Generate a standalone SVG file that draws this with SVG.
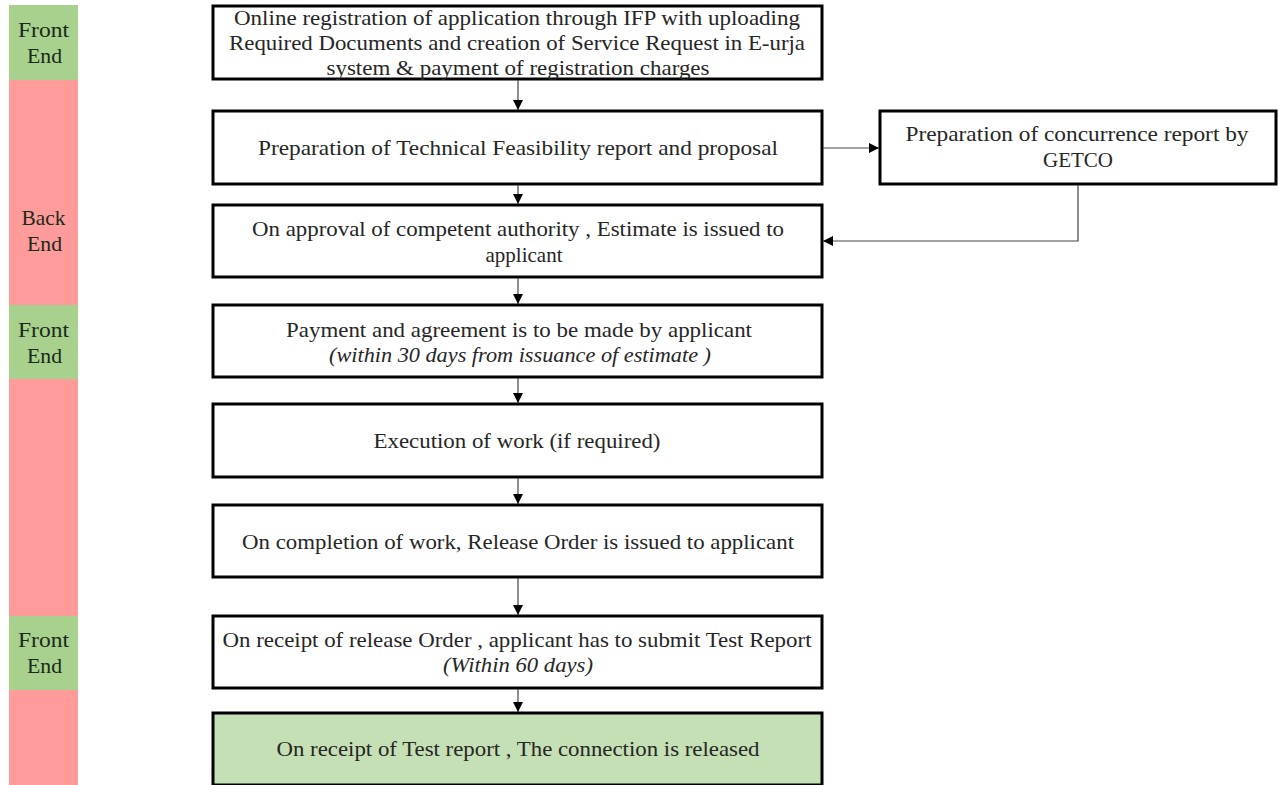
<svg xmlns="http://www.w3.org/2000/svg" width="1279" height="785" viewBox="0 0 1279 785">
<defs>
<marker id="arr" viewBox="0 0 10 10" refX="10" refY="5" markerWidth="10" markerHeight="10" markerUnits="userSpaceOnUse" orient="auto">
<path d="M0,0 L10,5 L0,10 Z" fill="#000"/>
</marker>
<style>
.box{fill:#fff;stroke:#000;stroke-width:3}
.fin{fill:#c5e0b4;stroke:#000;stroke-width:3}
.t{font-family:"Liberation Serif","DejaVu Serif",serif;font-size:21px;fill:#262626;text-anchor:middle}
.i{font-style:italic}
.lab{font-family:"Liberation Serif","DejaVu Serif",serif;font-size:21px;fill:#1a2a1a;text-anchor:middle}
.green{fill:#a9d18e}
.pink{fill:#ff9b9b}
.c{fill:none;stroke:#444;stroke-width:1.2}
</style>
</defs>
<rect width="1279" height="785" fill="#fff"/>
<g id="lanes">
<rect class="green" x="9" y="5" width="69" height="75"/>
<rect class="pink" x="9" y="80" width="69" height="225"/>
<rect class="green" x="9" y="305" width="69" height="74"/>
<rect class="pink" x="9" y="379" width="69" height="237"/>
<rect class="green" x="9" y="616" width="69" height="74"/>
<rect class="pink" x="9" y="690" width="69" height="95"/>
<text class="lab" x="43.500" y="37" textLength="51" lengthAdjust="spacingAndGlyphs">Front</text>
<text class="lab" x="44.500" y="63" textLength="35" lengthAdjust="spacingAndGlyphs">End</text>
<text class="lab" x="43.500" y="225" textLength="44" lengthAdjust="spacingAndGlyphs">Back</text>
<text class="lab" x="44.500" y="251" textLength="35" lengthAdjust="spacingAndGlyphs">End</text>
<text class="lab" x="43.500" y="337" textLength="51" lengthAdjust="spacingAndGlyphs">Front</text>
<text class="lab" x="44.500" y="363" textLength="35" lengthAdjust="spacingAndGlyphs">End</text>
<text class="lab" x="43.500" y="647" textLength="51" lengthAdjust="spacingAndGlyphs">Front</text>
<text class="lab" x="44.500" y="673" textLength="35" lengthAdjust="spacingAndGlyphs">End</text>
</g>
<g id="n1">
<rect class="box" x="213" y="6" width="609" height="73"/>
<text class="t" x="517" y="25" textLength="566" lengthAdjust="spacingAndGlyphs">Online registration of application through IFP with uploading</text>
<text class="t" x="517" y="50" textLength="576" lengthAdjust="spacingAndGlyphs">Required Documents and creation of Service Request in E-urja</text>
<text class="t" x="518" y="75" textLength="383" lengthAdjust="spacingAndGlyphs">system &amp; payment of registration charges</text>
</g>
<g id="n2">
<rect class="box" x="213" y="111" width="609" height="73"/>
<text class="t" x="518" y="155" textLength="520" lengthAdjust="spacingAndGlyphs">Preparation of Technical Feasibility report and proposal</text>
</g>
<g id="n3">
<rect class="box" x="880" y="111" width="396" height="73"/>
<text class="t" x="1077" y="141" textLength="343" lengthAdjust="spacingAndGlyphs">Preparation of concurrence report by</text>
<text class="t" x="1078" y="167">GETCO</text>
</g>
<g id="n4">
<rect class="box" x="213" y="205" width="609" height="72"/>
<text class="t" x="518" y="236" textLength="532" lengthAdjust="spacingAndGlyphs">On approval of competent authority , Estimate is issued to</text>
<text class="t" x="524" y="262">applicant</text>
</g>
<g id="n5">
<rect class="box" x="213" y="305" width="609" height="72"/>
<text class="t" x="519" y="337" textLength="466" lengthAdjust="spacingAndGlyphs">Payment and agreement is to be made by applicant</text>
<text class="t i" x="520" y="362" textLength="382" lengthAdjust="spacingAndGlyphs">(within 30 days from issuance of estimate )</text>
</g>
<g id="n6">
<rect class="box" x="213" y="404" width="609" height="73"/>
<text class="t" x="517" y="448" textLength="287" lengthAdjust="spacingAndGlyphs">Execution of work (if required)</text>
</g>
<g id="n7">
<rect class="box" x="213" y="505" width="609" height="72"/>
<text class="t" x="518" y="549" textLength="552" lengthAdjust="spacingAndGlyphs">On completion of work, Release Order is issued to applicant</text>
</g>
<g id="n8">
<rect class="box" x="213" y="616" width="609" height="72"/>
<text class="t" x="517" y="647" textLength="589" lengthAdjust="spacingAndGlyphs">On receipt of release Order , applicant has to submit Test Report</text>
<text class="t i" x="518" y="672" textLength="150" lengthAdjust="spacingAndGlyphs">(Within 60 days)</text>
</g>
<g id="n9">
<rect class="fin" x="213" y="713" width="609" height="72"/>
<text class="t" x="518" y="756" textLength="483" lengthAdjust="spacingAndGlyphs">On receipt of Test report , The connection is released</text>
</g>
<g id="connectors">
<line class="c" x1="518" y1="80" x2="518" y2="110" marker-end="url(#arr)"/>
<line class="c" x1="518" y1="185" x2="518" y2="204" marker-end="url(#arr)"/>
<line class="c" x1="518" y1="278" x2="518" y2="304" marker-end="url(#arr)"/>
<line class="c" x1="518" y1="378" x2="518" y2="403" marker-end="url(#arr)"/>
<line class="c" x1="518" y1="478" x2="518" y2="504" marker-end="url(#arr)"/>
<line class="c" x1="518" y1="578" x2="518" y2="615" marker-end="url(#arr)"/>
<line class="c" x1="518" y1="689" x2="518" y2="712" marker-end="url(#arr)"/>
<line class="c" x1="823" y1="148" x2="879" y2="148" marker-end="url(#arr)"/>
<polyline class="c" points="1078,185 1078,241 823,241" marker-end="url(#arr)"/>
</g>
</svg>
